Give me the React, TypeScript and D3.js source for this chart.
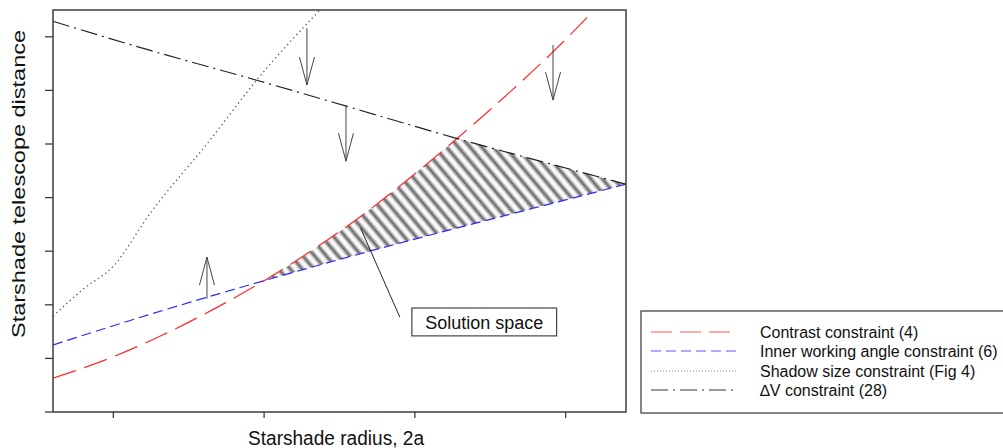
import React from 'react';
import * as d3 from 'd3';

// ---- data ----
const xDomain = [0.6, 4.4];
const yDomain = [0, 7.5];
const xTicks = [1, 2, 3, 4];
const yTicks = [0, 1, 2, 3, 4, 5, 6, 7];

const contrastX = [0.6, 1.0, 1.33, 1.66, 2.0, 2.32, 2.66, 2.99, 3.32, 3.65, 3.92, 4.18];
const contrastY = [0.63, 1.03, 1.44, 1.91, 2.45, 3.02, 3.69, 4.42, 5.2, 6.02, 6.73, 7.47];

const iwaX = [0.6, 1.0, 1.5, 2.0, 2.7, 3.37, 4.03, 4.4];
const iwaY = [1.25, 1.61, 2.04, 2.45, 3.0, 3.5, 3.98, 4.25];

const shadowX = [0.6, 0.8, 1.0, 1.24, 1.64, 1.95, 2.37];
const shadowY = [1.79, 2.29, 2.72, 3.69, 5.07, 6.19, 7.5];

const dvX = [0.6, 1.24, 1.95, 2.54, 3.27, 3.83, 4.4];
const dvY = [7.29, 6.75, 6.19, 5.71, 5.11, 4.68, 4.25];

const arrowX = [2.284, 2.543, 3.916, 1.621];
const arrowFrom = [7.16, 5.73, 6.85, 2.11];
const arrowTo = [6.1, 4.68, 5.82, 2.89];

const noteBoxX = [2.98, 3.94];
const noteBoxY = [1.42, 1.94];
const leaderX = [2.9, 2.64];
const leaderY = [1.77, 3.43];
const noteText = 'Solution space';

const legendLabels = [
  'Contrast constraint (4)',
  'Inner working angle constraint (6)',
  'Shadow size constraint (Fig 4)',
  '\u2206V constraint (28)',
];

const FONT = 'Arial, "Liberation Sans", Helvetica, sans-serif';

export default function App() {
  const x = d3.scaleLinear().domain(xDomain).range([53, 626]);
  const y = d3.scaleLinear().domain(yDomain).range([412, 10]);
  const [x0, x1] = x.range();
  const [yB, yT] = y.range();

  const mk = (xs: number[], ys: number[]) =>
    d3
      .line<number>()
      .x((_, i) => x(xs[i]))
      .y((_, i) => y(ys[i]))
      .curve(d3.curveMonotoneX)(xs) as string;

  const contrastPath = mk(contrastX, contrastY);
  const iwaPath = mk(iwaX, iwaY);
  const shadowPath = mk(shadowX, shadowY);
  const dvPath = mk(dvX, dvY);

  const clipAboveIwa = `${iwaPath}L${x1},${yT}L${x0},${yT}Z`;
  const clipBelowDv = `${dvPath}L${x1},${yB}L${x0},${yB}Z`;
  const clipRightContrast = `${contrastPath}L${x1},${yT}L${x1},${yB}L${x0},${yB}Z`;

  const styles = [
    { stroke: '#ff2a2a', dash: '24,9', width: 1.2 },
    { stroke: '#2a2aff', dash: '10,5', width: 1.2 },
    { stroke: '#555', dash: '1.3,3.2', width: 1.3 },
    { stroke: '#222', dash: '17,5,2,5', width: 1.2 },
  ];
  const legendStyles = [
    { stroke: '#ff5555', dash: '21,8' },
    { stroke: '#5a5aff', dash: '10,5' },
    { stroke: '#888', dash: '1,2' },
    { stroke: '#333', dash: '17,5,2,5' },
  ];
  const paths = [contrastPath, iwaPath, shadowPath, dvPath];

  const frame = '#3c3c3c';
  const legendRows = [332, 351, 371, 390];

  return (
    <svg
      width={1003}
      height={448}
      style={{ position: 'absolute', left: 0, top: 0, background: '#fff', fontFamily: FONT }}
    >
      <defs>
        <clipPath id="plotClip">
          <rect x={x0} y={yT} width={x1 - x0} height={yB - yT} />
        </clipPath>
        <clipPath id="cA">
          <path d={clipAboveIwa} />
        </clipPath>
        <clipPath id="cB">
          <path d={clipBelowDv} />
        </clipPath>
        <clipPath id="cC">
          <path d={clipRightContrast} />
        </clipPath>
        <linearGradient id="stripeGrad" x1="0" x2="1" y1="0" y2="0">
          <stop offset="0" stopColor="#ffffff" />
          <stop offset="0.15" stopColor="#f4f4f4" />
          <stop offset="0.5" stopColor="#666666" />
          <stop offset="0.85" stopColor="#f4f4f4" />
          <stop offset="1" stopColor="#ffffff" />
        </linearGradient>
        <pattern id="hatch" patternUnits="userSpaceOnUse" width={9} height={30} patternTransform="rotate(-40)">
          <rect width={9} height={30} fill="url(#stripeGrad)" />
        </pattern>
      </defs>

      <rect x={0} y={0} width={1003} height={448} fill="#fff" />

      {/* hatched solution space */}
      <g clipPath="url(#cA)">
        <g clipPath="url(#cB)">
          <rect
            x={x0}
            y={yT}
            width={x1 - x0}
            height={yB - yT}
            fill="url(#hatch)"
            clipPath="url(#cC)"
          />
        </g>
      </g>

      {/* constraint curves */}
      <g clipPath="url(#plotClip)" fill="none">
        {paths.map((p, i) => (
          <path
            key={i}
            d={p}
            stroke={styles[i].stroke}
            strokeWidth={styles[i].width}
            strokeDasharray={styles[i].dash}
          />
        ))}
      </g>

      {/* arrows */}
      <g stroke="#444" strokeWidth={1} fill="none">
        {arrowX.map((ax, i) => {
          const px = x(ax);
          const ys = y(arrowFrom[i]);
          const ye = y(arrowTo[i]);
          const dir = ye > ys ? -1 : 1;
          const wingY = ye + dir * 28;
          return (
            <g key={i}>
              <line x1={px} y1={ys} x2={px} y2={ye} />
              <path d={`M${px - 7.5},${wingY}L${px},${ye}L${px + 7.5},${wingY}`} />
            </g>
          );
        })}
      </g>

      {/* annotation */}
      <line
        x1={x(leaderX[0])}
        y1={y(leaderY[0])}
        x2={x(leaderX[1])}
        y2={y(leaderY[1])}
        stroke="#222"
        strokeWidth={1}
      />
      <rect
        x={x(noteBoxX[0])}
        y={y(noteBoxY[1])}
        width={x(noteBoxX[1]) - x(noteBoxX[0])}
        height={y(noteBoxY[0]) - y(noteBoxY[1])}
        fill="#fff"
        stroke="#444"
        strokeWidth={1.2}
      />
      <text
        x={(x(noteBoxX[0]) + x(noteBoxX[1])) / 2}
        y={y(noteBoxY[0]) - 7}
        textAnchor="middle"
        fontSize={18}
        fill="#111"
      >
        {noteText}
      </text>

      {/* frame */}
      <rect x={x0} y={yT} width={x1 - x0} height={yB - yT} fill="none" stroke={frame} strokeWidth={1.5} />
      {yTicks.map((t) => (
        <line key={'y' + t} x1={x0 - 8} x2={x0} y1={y(t)} y2={y(t)} stroke={frame} strokeWidth={1.3} />
      ))}
      {xTicks.map((t) => (
        <line key={'x' + t} x1={x(t)} x2={x(t)} y1={yB} y2={yB + 6} stroke={frame} strokeWidth={1.3} />
      ))}

      {/* axis titles */}
      <text x={336} y={445} textAnchor="middle" fontSize={20} fill="#111" textLength={176} lengthAdjust="spacingAndGlyphs">
        Starshade radius, 2a
      </text>
      <text
        transform="translate(25,184) rotate(-90)"
        textAnchor="middle"
        fontSize={18}
        fill="#111"
        textLength={308}
        lengthAdjust="spacingAndGlyphs"
      >
        Starshade telescope distance
      </text>

      {/* legend */}
      <rect x={641} y={311} width={380} height={102} fill="#fff" stroke="#444" strokeWidth={1.3} />
      {legendLabels.map((lab, i) => (
        <g key={lab}>
          <line
            x1={651}
            x2={737}
            y1={legendRows[i]}
            y2={legendRows[i]}
            stroke={legendStyles[i].stroke}
            strokeWidth={1}
            strokeDasharray={legendStyles[i].dash}
          />
          <text x={760} y={legendRows[i] + 5.5} fontSize={16} fill="#111">
            {lab}
          </text>
        </g>
      ))}
    </svg>
  );
}
